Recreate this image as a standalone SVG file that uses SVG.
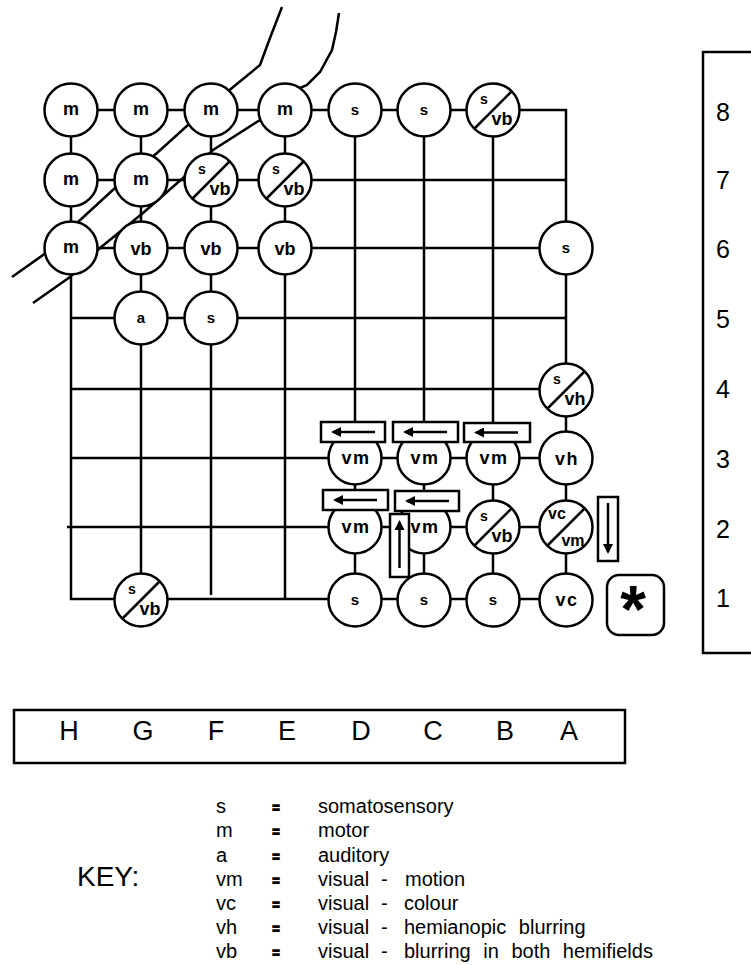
<svg xmlns="http://www.w3.org/2000/svg" width="751" height="965" viewBox="0 0 751 965">
<style>
.ln{fill:none;stroke:#000;stroke-width:2.5}
.nd circle{fill:#fff;stroke:#000;stroke-width:2.5}
.dg{stroke:#000;stroke-width:2.5}
.lb{font-family:"Liberation Sans",Arial,sans-serif;font-weight:bold;font-size:18px;text-anchor:middle;fill:#000}
.sm{font-size:15px}
.s2{font-size:14px}
.wd{letter-spacing:1.5px}
.box{fill:#fff;stroke:#000;stroke-width:2.5}
.ar{fill:none;stroke:#000;stroke-width:2.5;marker-end:url(#ah)}
.tx{font-family:"Liberation Sans",Arial,sans-serif;fill:#000}
.num{font-size:25px;text-anchor:middle}
.let{font-size:27px;text-anchor:middle}
.key{font-size:20px}
.eq{font-size:12px;font-weight:bold;text-anchor:middle;stroke:#000;stroke-width:1.4}
</style>
<defs>
<marker id="ah" viewBox="0 0 10 10" refX="8" refY="5" markerUnits="userSpaceOnUse" markerWidth="15" markerHeight="10" orient="auto"><path d="M0,0 L10,5 L0,10 z" fill="#000"/></marker>
</defs>

<g id="connectors">
<path class="ln" d="M282,7 L270,38 L260,65 L232,88 L188,125 L157,153 L115,188 L78,222 L43,255 L12,277"/>
<path class="ln" d="M339,13 L336,32 L332,50 L320,72 L307,85 L300,88 L260,120 L213,150 L183,178 L143,213 L100,248 L70,277 L33,303"/>
<path class="ln" d="M71,110 H566 V248"/>
<path class="ln" d="M71,110 V599 H566"/>
<path class="ln" d="M141,110 V600"/>
<path class="ln" d="M211,110 V595"/>
<path class="ln" d="M285,110 V599"/>
<path class="ln" d="M355,110 V600"/>
<path class="ln" d="M424,110 V600"/>
<path class="ln" d="M493,110 V600"/>
<path class="ln" d="M566,248 V600"/>
<path class="ln" d="M71,180 H566"/>
<path class="ln" d="M71,248 H566"/>
<path class="ln" d="M71,318 H566"/>
<path class="ln" d="M71,389 H566"/>
<path class="ln" d="M71,458 H566"/>
<path class="ln" d="M67,527 H566"/>
</g>

<g id="n-H8" class="nd"><circle cx="71" cy="110" r="26.5"/><text class="lb" x="71" y="115">m</text></g>
<g id="n-G8" class="nd"><circle cx="141" cy="110" r="26.5"/><text class="lb" x="141" y="115">m</text></g>
<g id="n-F8" class="nd"><circle cx="211" cy="110" r="26.5"/><text class="lb" x="211" y="115">m</text></g>
<g id="n-E8" class="nd"><circle cx="285" cy="110" r="26.5"/><text class="lb" x="285" y="115">m</text></g>
<g id="n-D8" class="nd"><circle cx="355" cy="110" r="26.5"/><text class="lb sm" x="355" y="115">s</text></g>
<g id="n-C8" class="nd"><circle cx="424" cy="110" r="26.5"/><text class="lb sm" x="424" y="115">s</text></g>
<g id="n-B8" class="nd"><circle cx="493" cy="110" r="26.5"/><line class="dg" x1="474" y1="129" x2="512" y2="91"/><text class="lb s2" x="484" y="104">s</text><text class="lb" x="502" y="125">vb</text></g>

<g id="n-H7" class="nd"><circle cx="71" cy="180" r="26.5"/><text class="lb" x="71" y="185">m</text></g>
<g id="n-G7" class="nd"><circle cx="141" cy="180" r="26.5"/><text class="lb" x="141" y="185">m</text></g>
<g id="n-F7" class="nd"><circle cx="211" cy="180" r="26.5"/><line class="dg" x1="192" y1="199" x2="230" y2="161"/><text class="lb s2" x="202" y="174">s</text><text class="lb" x="220" y="195">vb</text></g>
<g id="n-E7" class="nd"><circle cx="285" cy="180" r="26.5"/><line class="dg" x1="266" y1="199" x2="304" y2="161"/><text class="lb s2" x="276" y="174">s</text><text class="lb" x="294" y="195">vb</text></g>

<g id="n-H6" class="nd"><circle cx="71" cy="248" r="26.5"/><text class="lb" x="71" y="253">m</text></g>
<g id="n-G6" class="nd"><circle cx="141" cy="248" r="26.5"/><text class="lb" x="141" y="255">vb</text></g>
<g id="n-F6" class="nd"><circle cx="211" cy="248" r="26.5"/><text class="lb" x="211" y="255">vb</text></g>
<g id="n-E6" class="nd"><circle cx="285" cy="248" r="26.5"/><text class="lb" x="285" y="255">vb</text></g>
<g id="n-A6" class="nd"><circle cx="566" cy="248" r="26.5"/><text class="lb sm" x="566" y="253">s</text></g>

<g id="n-G5" class="nd"><circle cx="141" cy="318" r="26.5"/><text class="lb sm" x="141" y="323">a</text></g>
<g id="n-F5" class="nd"><circle cx="211" cy="318" r="26.5"/><text class="lb sm" x="211" y="323">s</text></g>

<g id="n-A4" class="nd"><circle cx="566" cy="390" r="26.5"/><line class="dg" x1="547" y1="409" x2="585" y2="371"/><text class="lb s2" x="557" y="384">s</text><text class="lb" x="575" y="405">vh</text></g>

<g id="n-D3" class="nd"><circle cx="355" cy="458" r="26.5"/><text class="lb wd" x="356" y="464">vm</text></g>
<g id="n-C3" class="nd"><circle cx="424" cy="458" r="26.5"/><text class="lb wd" x="425" y="464">vm</text></g>
<g id="n-B3" class="nd"><circle cx="493" cy="458" r="26.5"/><text class="lb wd" x="494" y="464">vm</text></g>
<g id="n-A3" class="nd"><circle cx="566" cy="458" r="26.5"/><text class="lb wd" x="567" y="465">vh</text></g>

<g id="n-D2" class="nd"><circle cx="355" cy="527" r="26.5"/><text class="lb wd" x="356" y="533">vm</text></g>
<g id="n-C2" class="nd"><circle cx="424" cy="527" r="26.5"/><text class="lb wd" x="425" y="533">vm</text></g>
<g id="n-B2" class="nd"><circle cx="493" cy="527" r="26.5"/><line class="dg" x1="474" y1="546" x2="512" y2="508"/><text class="lb s2" x="484" y="521">s</text><text class="lb" x="502" y="542">vb</text></g>
<g id="n-A2" class="nd"><circle cx="566" cy="527" r="26.5"/><line class="dg" x1="547" y1="546" x2="585" y2="508"/><text class="lb" x="557" y="519" style="font-size:16px">vc</text><text class="lb" x="573" y="546" style="font-size:16px">vm</text></g>

<g id="n-G1" class="nd"><circle cx="141" cy="600" r="26.5"/><line class="dg" x1="122" y1="619" x2="160" y2="581"/><text class="lb s2" x="132" y="594">s</text><text class="lb" x="150" y="615">vb</text></g>
<g id="n-D1" class="nd"><circle cx="355" cy="600" r="26.5"/><text class="lb sm" x="355" y="605">s</text></g>
<g id="n-C1" class="nd"><circle cx="424" cy="600" r="26.5"/><text class="lb sm" x="424" y="605">s</text></g>
<g id="n-B1" class="nd"><circle cx="493" cy="600" r="26.5"/><text class="lb sm" x="493" y="605">s</text></g>
<g id="n-A1" class="nd"><circle cx="566" cy="600" r="26.5"/><text class="lb wd" x="567" y="606">vc</text></g>

<g id="arrow-D3"><rect class="box" x="321" y="422" width="64" height="20"/><path class="ar" d="M375,432 H333"/></g>
<g id="arrow-C3"><rect class="box" x="393" y="422" width="65" height="20"/><path class="ar" d="M447,432 H405"/></g>
<g id="arrow-B3"><rect class="box" x="464" y="423" width="66" height="19"/><path class="ar" d="M518,432.5 H476"/></g>
<g id="arrow-D2"><rect class="box" x="323" y="490" width="65" height="20"/><path class="ar" d="M377,500 H335"/></g>
<g id="arrow-C2"><rect class="box" x="395" y="491" width="64" height="20"/><path class="ar" d="M449,501 H407"/></g>
<g id="arrow-up"><rect class="box" x="390" y="514" width="19" height="63"/><path class="ar" d="M399.5,568 V522"/></g>
<g id="arrow-down"><rect class="box" x="598" y="497" width="20" height="64"/><path class="ar" d="M608,503 V552"/></g>

<g id="star"><rect class="box" x="607" y="575" width="57" height="60" rx="12"/><text class="tx" x="633" y="632" style="font-size:66px;font-weight:bold;text-anchor:middle">*</text></g>

<g id="row-scale">
<path class="ln" d="M752,52 H703 V653 H752"/>
<text class="tx num" x="723" y="121">8</text>
<text class="tx num" x="723" y="189">7</text>
<text class="tx num" x="723" y="258">6</text>
<text class="tx num" x="723" y="328">5</text>
<text class="tx num" x="723" y="398">4</text>
<text class="tx num" x="723" y="468">3</text>
<text class="tx num" x="723" y="538">2</text>
<text class="tx num" x="723" y="607">1</text>
</g>

<g id="col-scale">
<rect x="14" y="710" width="611" height="53" fill="none" stroke="#000" stroke-width="2.5"/>
<text class="tx let" x="69" y="740">H</text>
<text class="tx let" x="143" y="740">G</text>
<text class="tx let" x="216" y="740">F</text>
<text class="tx let" x="287" y="740">E</text>
<text class="tx let" x="361" y="740">D</text>
<text class="tx let" x="433" y="740">C</text>
<text class="tx let" x="505" y="740">B</text>
<text class="tx let" x="569" y="740">A</text>
</g>

<g id="key">
<text class="tx" x="77" y="886" style="font-size:28px">KEY:</text>
<text class="tx key" x="216" y="813">s</text><text class="tx eq" x="276" y="812">=</text><text class="tx key" x="318" y="813">somatosensory</text>
<text class="tx key" x="216" y="837">m</text><text class="tx eq" x="276" y="836">=</text><text class="tx key" x="318" y="837">motor</text>
<text class="tx key" x="216" y="862">a</text><text class="tx eq" x="276" y="861">=</text><text class="tx key" x="318" y="862">auditory</text>
<text class="tx key" x="216" y="886">vm</text><text class="tx eq" x="276" y="885">=</text><text class="tx key" x="318" y="886">visual<tspan x="381">-</tspan><tspan x="405">motion</tspan></text>
<text class="tx key" x="216" y="910">vc</text><text class="tx eq" x="276" y="909">=</text><text class="tx key" x="318" y="910">visual<tspan x="381">-</tspan><tspan x="404">colour</tspan></text>
<text class="tx key" x="216" y="934">vh</text><text class="tx eq" x="276" y="933">=</text><text class="tx key" x="318" y="934">visual<tspan x="381">-</tspan><tspan x="404" word-spacing="7">hemianopic blurring</tspan></text>
<text class="tx key" x="216" y="958">vb</text><text class="tx eq" x="276" y="957">=</text><text class="tx key" x="318" y="958">visual<tspan x="381">-</tspan><tspan x="404" word-spacing="7">blurring in both hemifields</tspan></text>
</g>
</svg>
